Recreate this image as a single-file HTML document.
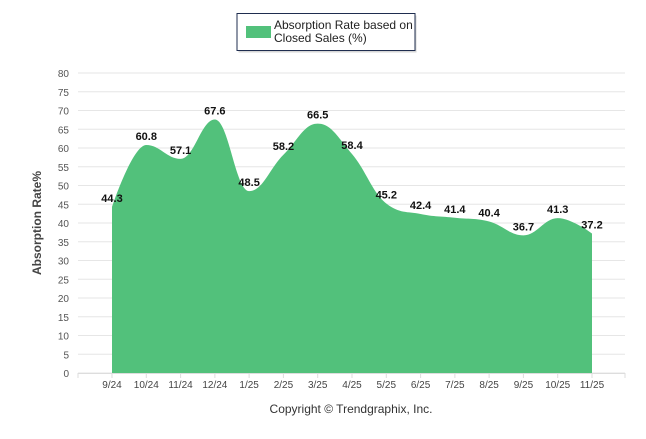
<!DOCTYPE html>
<html><head><meta charset="utf-8"><style>
body{margin:0;background:#fff;width:646px;height:434px;overflow:hidden;font-family:"Liberation Sans",sans-serif}
</style></head><body>
<svg width="646" height="434">
<g>
<rect x="237" y="14" width="178" height="37" fill="#999" opacity="0.4" transform="translate(1.5,1.5)"/>
<rect x="237" y="13.5" width="178" height="37" fill="#fff" stroke="#1f2d4f" stroke-width="1"/>
<rect x="246" y="26" width="25" height="12" fill="#52c17b"/>
<text x="274" y="29" font-size="12" fill="#222">Absorption Rate based on</text>
<text x="274" y="42" font-size="12" fill="#222">Closed Sales (%)</text>
</g>
<g id="grid"></g>
<g id="yt"></g>
<path id="area" fill="#52c17b"/>
<g id="xt"></g>
<g id="lbl"></g>
<text transform="translate(41,223) rotate(-90)" text-anchor="middle" font-size="12" font-weight="bold" fill="#444">Absorption Rate%</text>
<text x="351" y="413" text-anchor="middle" font-size="12" fill="#333">Copyright © Trendgraphix, Inc.</text>
</svg>
<script>
const categories=["9/24","10/24","11/24","12/24","1/25","2/25","3/25","4/25","5/25","6/25","7/25","8/25","9/25","10/25","11/25"];
const values=[44.3,60.8,57.1,67.6,48.5,58.2,66.5,58.4,45.2,42.4,41.4,40.4,36.7,41.3,37.2];
const yTicks=[0,5,10,15,20,25,30,35,40,45,50,55,60,65,70,75,80];
const NS="http://www.w3.org/2000/svg";
const L=78,R=625,x0=112,x1=592,yB=373,yT=73;
const X=i=>x0+(x1-x0)*i/(categories.length-1);
const Y=v=>yB-(yB-yT)*v/80;
function mk(t,a,p){const e=document.createElementNS(NS,t);for(const k in a)e.setAttribute(k,a[k]);p.appendChild(e);return e;}
const g=document.getElementById('grid'),yt=document.getElementById('yt'),xt=document.getElementById('xt'),lb=document.getElementById('lbl');
yTicks.forEach(v=>{
 const l=mk('line',{x1:L,x2:R,y1:Y(v),y2:Y(v),stroke:'#e6e6e6'},g);
 
 
 const t=mk('text',{x:69,y:Y(v)+4,'text-anchor':'end','font-size':'10',fill:'#555'},yt);
 
 
 t.textContent=v;
});
mk('line',{x1:L,x2:R,y1:yB+0.5,y2:yB+0.5,stroke:'#ddd'},xt);
for(let i=-1;i<categories.length+1;i++){const x=i<0?L:(i>=categories.length?R:X(i));mk('line',{x1:x,x2:x,y1:yB,y2:yB+5,stroke:'#ddd'},xt);}
categories.forEach((c,i)=>{
 const t=mk('text',{x:X(i),y:yB+15,'text-anchor':'middle','font-size':'10',fill:'#444'},xt);
 
 
 t.textContent=c;
});
const pts=values.map((v,i)=>[X(i),Y(v)]);
let d=`M${pts[0][0]},${yB}L${pts[0][0]},${pts[0][1]}`;
const s=1.5,den=s+1;
function ctrl(i){
 const p=pts[i],pr=pts[i-1],nx=pts[i+1];
 if(!pr||!nx)return null;
 let lx=(s*p[0]+pr[0])/den,ly=(s*p[1]+pr[1])/den,rx=(s*p[0]+nx[0])/den,ry=(s*p[1]+nx[1])/den;
 let corr=0;
 if(rx!==lx)corr=((ry-ly)*(rx-p[0]))/(rx-lx)+p[1]-ry;
 ly+=corr;ry+=corr;
 if(ly>pr[1]&&ly>p[1]){ly=Math.max(pr[1],p[1]);ry=2*p[1]-ly;}else if(ly<pr[1]&&ly<p[1]){ly=Math.min(pr[1],p[1]);ry=2*p[1]-ly;}
 if(ry>nx[1]&&ry>p[1]){ry=Math.max(nx[1],p[1]);ly=2*p[1]-ry;}else if(ry<nx[1]&&ry<p[1]){ry=Math.min(nx[1],p[1]);ly=2*p[1]-ry;}
 return {l:[lx,ly],r:[rx,ry]};
}
for(let i=1;i<pts.length;i++){
 const a=ctrl(i-1),b=ctrl(i);
 const c1=a?a.r:pts[i-1],c2=b?b.l:pts[i];
 d+=`C${c1[0]},${c1[1]} ${c2[0]},${c2[1]} ${pts[i][0]},${pts[i][1]}`;
}
d+=`L${pts[pts.length-1][0]},${yB}Z`;
document.getElementById('area').setAttribute('d',d);
values.forEach((v,i)=>{
 const t=mk('text',{x:X(i),y:Y(v)-5,'text-anchor':'middle','font-size':'11','font-weight':'bold',fill:'#111'},lb);
 
 
 t.textContent=v.toFixed(1);
});
</script>
</body></html>
